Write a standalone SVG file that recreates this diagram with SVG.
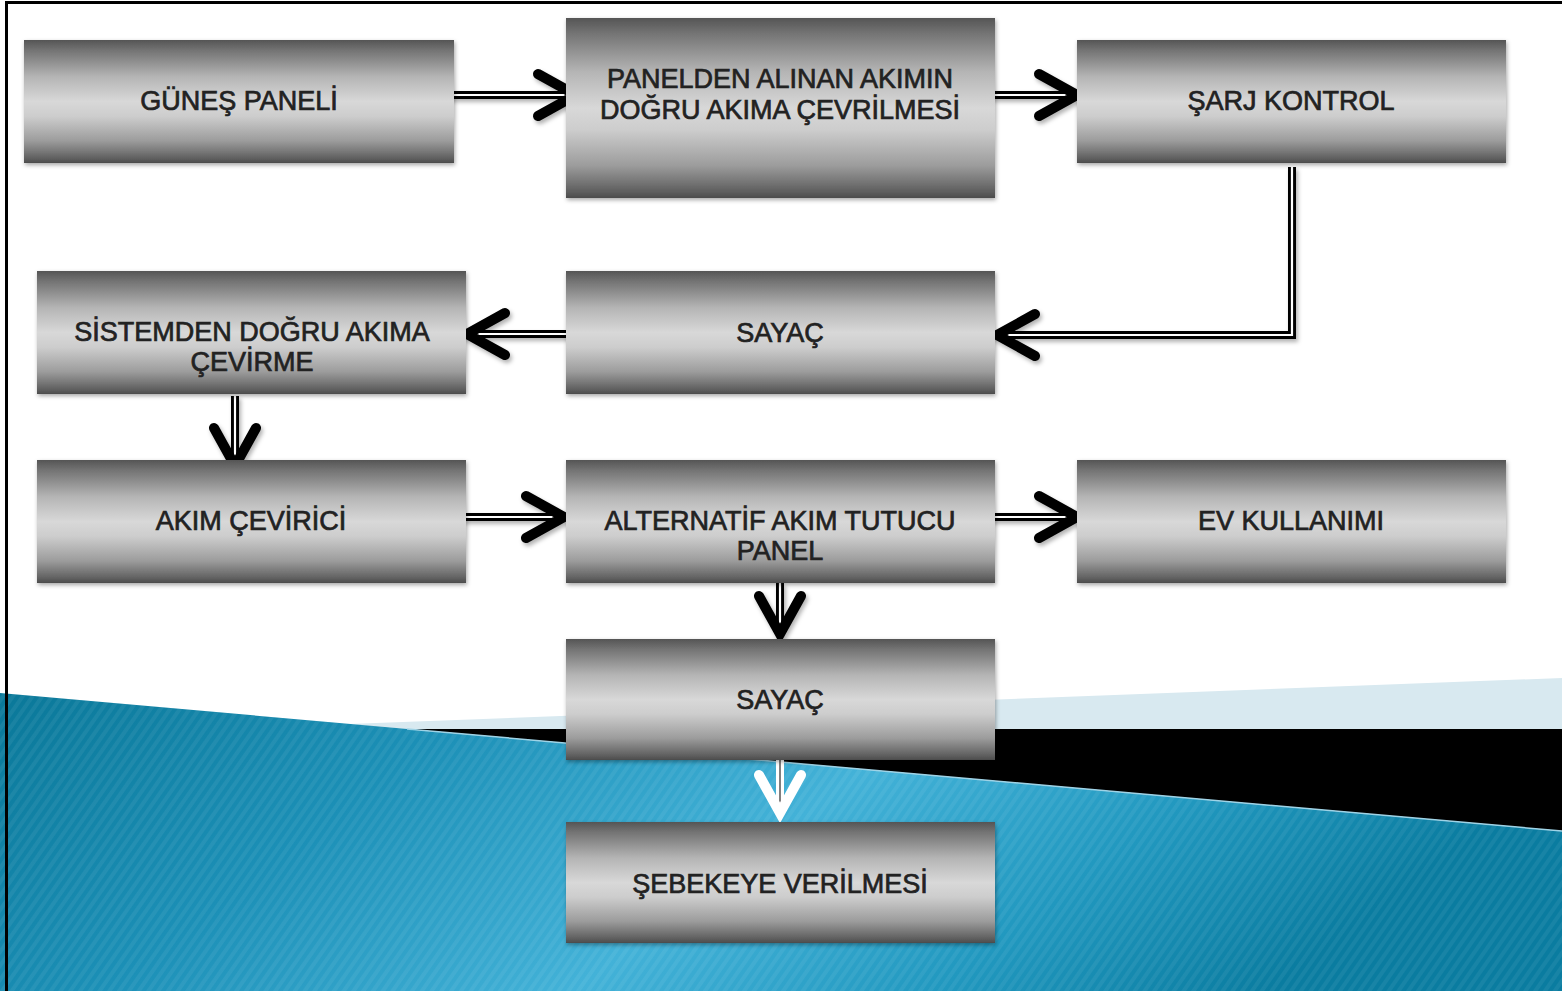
<svg xmlns="http://www.w3.org/2000/svg" width="1562" height="991" viewBox="0 0 1562 991">
<defs>
<linearGradient id="box" x1="0" y1="0" x2="0" y2="1">
<stop offset="0" stop-color="#555"/>
<stop offset="0.08" stop-color="#727272"/>
<stop offset="0.3" stop-color="#b5b5b5"/>
<stop offset="0.5" stop-color="#d8d8d8"/>
<stop offset="0.62" stop-color="#cdcdcd"/>
<stop offset="0.82" stop-color="#9c9c9c"/>
<stop offset="0.95" stop-color="#656565"/>
<stop offset="1" stop-color="#4c4c4c"/>
</linearGradient>
<linearGradient id="sea" x1="0" y1="0" x2="1" y2="0.25">
<stop offset="0" stop-color="#0a7899"/>
<stop offset="0.3" stop-color="#1c90b7"/>
<stop offset="0.58" stop-color="#43b2d8"/>
<stop offset="0.8" stop-color="#2198bf"/>
<stop offset="1" stop-color="#0a7ca0"/>
</linearGradient>
<pattern id="stripes" width="8" height="8" patternUnits="userSpaceOnUse" patternTransform="rotate(35)">
<rect width="4" height="8" fill="#ffffff" opacity="0.06"/>
</pattern>
<filter id="sh" x="-5%" y="-10%" width="110%" height="125%">
<feDropShadow dx="1" dy="2" stdDeviation="2" flood-color="#000" flood-opacity="0.35"/>
</filter>
<filter id="ash" x="-20%" y="-20%" width="140%" height="140%">
<feDropShadow dx="2" dy="3" stdDeviation="2" flood-color="#000" flood-opacity="0.3"/>
</filter>
</defs>
<style>
.box{fill:url(#box);filter:url(#sh)}
.lbl{font-family:"Liberation Sans",Arial,sans-serif;font-size:27px;fill:#222;stroke:#222;stroke-width:0.7;text-anchor:middle}
.sh1{fill:none;stroke:#000;stroke-width:8}
.sh2{fill:none;stroke:#fff;stroke-width:2.2}
.hd{fill:none;stroke:#000;stroke-width:10;stroke-linecap:round;stroke-linejoin:miter}
.wsh1{fill:none;stroke:#fff;stroke-width:8}
.wsh2{fill:none;stroke:#555;stroke-width:1.5}
.whd{fill:none;stroke:#fff;stroke-width:10;stroke-linecap:round;stroke-linejoin:miter}
</style>
<rect width="1562" height="991" fill="#fff"/>
<g id="background">
<polygon points="349,724 1562,678 1562,729 407,729" fill="#d8e9f0"/>
<polygon points="407,729 1562,729 1562,831" fill="#000"/>
<polygon points="0,693 1562,831 1562,991 0,991" fill="url(#sea)"/>
<polygon points="0,693 1562,831 1562,991 0,991" fill="url(#stripes)"/>
<line x1="407" y1="729" x2="1562" y2="831" stroke="#9fd3e6" stroke-width="1.5"/>
<line x1="5" y1="2.5" x2="1562" y2="2.5" stroke="#000" stroke-width="3"/>
<line x1="6.5" y1="1" x2="6.5" y2="991" stroke="#000" stroke-width="3"/>
</g>
<g id="connectors">
<g filter="url(#ash)">
<path class="sh1" d="M447,95 H568"/><path class="sh2" d="M447,95 H568"/><path class="hd" d="M538,74 L576,95 L538,116"/>
<path class="sh1" d="M990,95 H1068"/><path class="sh2" d="M990,95 H1068"/><path class="hd" d="M1039,74 L1077,95 L1039,116"/>
<path class="sh1" d="M1292,167 V335 H1004"/><path class="sh2" d="M1292,167 V335 H1004"/><path class="hd" d="M1035,314 L997,335 L1035,356"/>
<path class="sh1" d="M567,334 H474"/><path class="sh2" d="M567,334 H474"/><path class="hd" d="M505,313 L467,334 L505,355"/>
<path class="sh1" d="M235,396 V458"/><path class="sh2" d="M235,396 V458"/><path class="hd" d="M214,428 L235,466 L256,428"/>
<path class="sh1" d="M462,517 H556"/><path class="sh2" d="M462,517 H556"/><path class="hd" d="M526,496 L564,517 L526,538"/>
<path class="sh1" d="M990,517 H1068"/><path class="sh2" d="M990,517 H1068"/><path class="hd" d="M1039,496 L1077,517 L1039,538"/>
<path class="sh1" d="M780,583 V627"/><path class="sh2" d="M780,583 V627"/><path class="hd" d="M759,596 L780,634 L801,596"/>
</g>
<path class="wsh1" d="M780,760 V806"/><path class="wsh2" d="M780,760 V806"/><path class="whd" d="M759,775 L780,813 L801,775"/>
</g>
<g id="n1"><rect class="box" x="24" y="40" width="430" height="123"/><text class="lbl" x="239" y="110">GÜNEŞ PANELİ</text></g>
<g id="n2"><rect class="box" x="566" y="18" width="429" height="180"/><text class="lbl" x="780" y="88">PANELDEN ALINAN AKIMIN</text><text class="lbl" x="780" y="119">DOĞRU AKIMA ÇEVRİLMESİ</text></g>
<g id="n3"><rect class="box" x="1077" y="40" width="429" height="123"/><text class="lbl" x="1291" y="110">ŞARJ KONTROL</text></g>
<g id="n4"><rect class="box" x="37" y="271" width="429" height="123"/><text class="lbl" x="252" y="341">SİSTEMDEN DOĞRU AKIMA</text><text class="lbl" x="252" y="371">ÇEVİRME</text></g>
<g id="n5"><rect class="box" x="566" y="271" width="429" height="123"/><text class="lbl" x="780" y="342">SAYAÇ</text></g>
<g id="n6"><rect class="box" x="37" y="460" width="429" height="123"/><text class="lbl" x="251" y="530">AKIM ÇEVİRİCİ</text></g>
<g id="n7"><rect class="box" x="566" y="460" width="429" height="123"/><text class="lbl" x="780" y="530">ALTERNATİF AKIM TUTUCU</text><text class="lbl" x="780" y="560">PANEL</text></g>
<g id="n8"><rect class="box" x="1077" y="460" width="429" height="123"/><text class="lbl" x="1291" y="530">EV KULLANIMI</text></g>
<g id="n9"><rect class="box" x="566" y="639" width="429" height="121"/><text class="lbl" x="780" y="709">SAYAÇ</text></g>
<g id="n10"><rect class="box" x="566" y="822" width="429" height="121"/><text class="lbl" x="780" y="893">ŞEBEKEYE VERİLMESİ</text></g>
</svg>
